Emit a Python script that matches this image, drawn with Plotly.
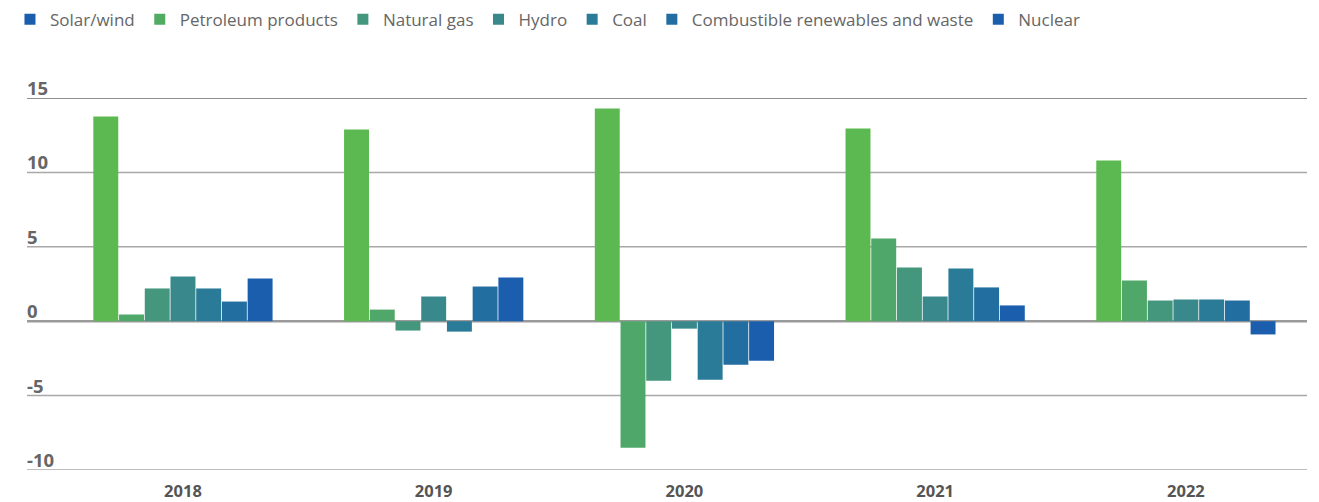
import plotly.graph_objects as go

years = ["2018", "2019", "2020", "2021", "2022"]
series_names = ["Solar/wind", "Petroleum products", "Natural gas", "Hydro", "Coal",
                "Combustible renewables and waste", "Nuclear"]

# values per bar position within each year group (as drawn, left to right)
bar1 = [13.76, 12.88, 14.30, 12.95, 10.80]
bar2 = [0.45, 0.78, -8.50, 5.56, 2.73]
bar3 = [2.20, -0.63, -4.00, 3.61, 1.39]
bar4 = [3.00, 1.66, -0.50, 1.66, 1.46]
bar5 = [2.20, -0.70, -3.93, 3.54, 1.46]
bar6 = [1.32, 2.33, -2.93, 2.27, 1.39]
bar7 = [2.87, 2.94, -2.66, 1.06, -0.89]
bar_values = [bar1, bar2, bar3, bar4, bar5, bar6, bar7]

bar_colors = ["#5cb951", "#4fa86a", "#44977d", "#39898c", "#2a7b97", "#236ea0", "#1c5eae"]
legend_colors = ["#1c5eae", "#52ab62", "#44977d", "#39898c", "#2a7b97", "#236ea0", "#1c5eae"]

y_ticks = [15, 10, 5, 0, -5, -10]

fig = go.Figure()
for i, vals in enumerate(bar_values):
    fig.add_trace(go.Bar(x=years, y=vals, marker=dict(color=bar_colors[i], line=dict(width=0)),
                         showlegend=False, name=series_names[i]))
# legend-only entries (swatch colours as in the reference legend)
for i, nm in enumerate(series_names):
    fig.add_trace(go.Scatter(x=[None], y=[None], mode="markers", name=nm,
                             marker=dict(symbol="square", size=11, color=legend_colors[i]),
                             showlegend=True))

shapes = []
for t in y_ticks:
    if t == 15:
        col, w = "#6a6a6a", 1.5
    elif t == 0:
        col, w = "#9a9a9a", 2.5
    else:
        col, w = "#a8a8a8", 1.5
    shapes.append(dict(type="line", xref="paper", yref="y", x0=0, x1=1, y0=t, y1=t,
                       line=dict(color=col, width=w), layer="below"))

annotations = []
for t in y_ticks:
    annotations.append(dict(xref="paper", yref="y", x=0, y=t, text=f"<b>{t}</b>",
                            showarrow=False, xanchor="left", yanchor="bottom", yshift=-4, xshift=-2,
                            font=dict(family="Open Sans", size=18.5, color="#666666")))

fig.update_layout(
    width=1311, height=494,
    margin=dict(l=19, r=12, t=90, b=32, autoexpand=False),
    paper_bgcolor="white", plot_bgcolor="white",
    barmode="group", bargap=0.282, bargroupgap=0.03,
    xaxis=dict(type="category", range=[-0.622, 4.483], showgrid=False, showline=False,
               ticks="", automargin=False, ticklabelstandoff=9,
               tickfont=dict(family="Open Sans", size=16.5, color="#555555", weight="bold")),
    yaxis=dict(range=[-10, 15], showgrid=False, zeroline=False, showticklabels=False,
               showline=False, ticks="", automargin=False),
    legend=dict(orientation="h", x=-0.0133, xanchor="left", y=1.259, yanchor="top",
                font=dict(family="Open Sans", size=17, color="#666666"),
                itemwidth=30, tracegroupgap=0),
    shapes=shapes, annotations=annotations,
    font=dict(family="Open Sans"),
)

fig.write_html("out.html")
